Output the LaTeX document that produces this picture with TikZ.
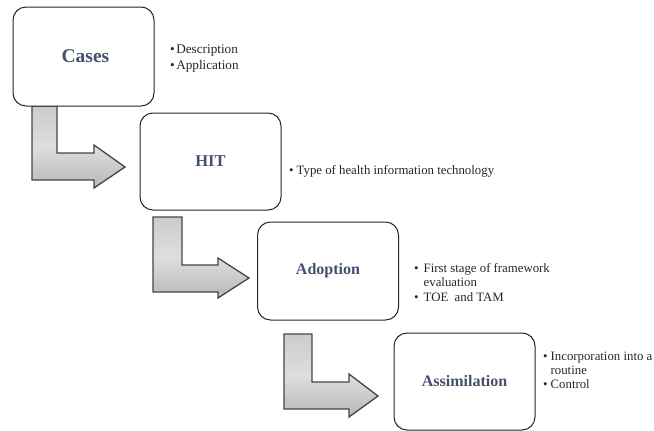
\documentclass[tikz,border=0pt]{standalone}
\usepackage{fontspec}
\setmainfont{Liberation Serif}
\definecolor{lbl}{HTML}{44506E}
\definecolor{arredge}{HTML}{454545}
\tikzset{
  stagebox/.style={draw=black!85, line width=1pt, rounded corners=13pt, fill=white,
    minimum width=141pt, minimum height=98pt, inner sep=0pt,
    font=\fontsize{16}{18}\selectfont\bfseries, text=lbl},
  bulletlist/.style={anchor=west, inner sep=0pt, align=left,
    font=\fontsize{12.8}{14.5}\selectfont, text=black!85},
  blockarrow/.style={draw=arredge, line width=1.3pt, line join=miter,
    top color=black!20, bottom color=black!28, middle color=black!13}
}
\newcommand{\larrow}[9]{%
  \path[blockarrow] (#1,#3) -- (#2,#3) -- (#2,#4) -- (#6,#4) -- (#6,#7)
    -- (#9) -- (#6,#8) -- (#6,#5) -- (#1,#5) -- cycle;}
\begin{document}
\begin{tikzpicture}[x=1pt,y=-1pt]
\useasboundingbox (0,0) rectangle (654,431);
% arrows
\coordinate (t1) at (125,167);
\coordinate (t2) at (249,278);
\coordinate (t3) at (378,396);
\larrow{32}{57}{106}{153}{180}{94}{145}{188}{t1}
\larrow{153}{182}{217}{265}{292}{218}{258}{298}{t2}
\larrow{284}{312}{334}{382}{409}{349}{374}{417}{t3}
% boxes
\node[stagebox, minimum height=99pt] (cases) at (83.5,56.5) {\fontsize{19.5}{21}\selectfont\hspace{4pt}Cases};
\node[stagebox, minimum height=97pt] (hit) at (210.5,161.5) {\fontsize{16.5}{18}\selectfont HIT};
\node[stagebox] (adoption) at (328,271) {Adoption};
\node[stagebox, minimum height=97pt] (assim) at (464.5,381.5) {Assimilation};
% bullet lists
\node[bulletlist, font=\fontsize{13.2}{16}\selectfont] (l1) at (170,58.5)
  {\begin{tabular}{@{}l@{\hspace{1.5pt}}l@{}}\textbullet & Description\\ \textbullet & Application\end{tabular}};
\node[bulletlist] (l2) at (289,171.5)
  {\begin{tabular}{@{}l@{\hspace{3pt}}l@{}}\textbullet & Type of health information technology\end{tabular}};
\node[bulletlist] (l3) at (414,284)
  {\begin{tabular}{@{}l@{\hspace{5pt}}l@{}}\textbullet & First stage of framework\\ & evaluation\\ \textbullet & TOE\ \ and TAM\end{tabular}};
\node[bulletlist, font=\fontsize{12.8}{13.8}\selectfont] (l4) at (543,372)
  {\begin{tabular}{@{}l@{\hspace{3pt}}l@{}}\textbullet & Incorporation into a\\ & routine\\ \textbullet & Control\end{tabular}};
\end{tikzpicture}
\end{document}
